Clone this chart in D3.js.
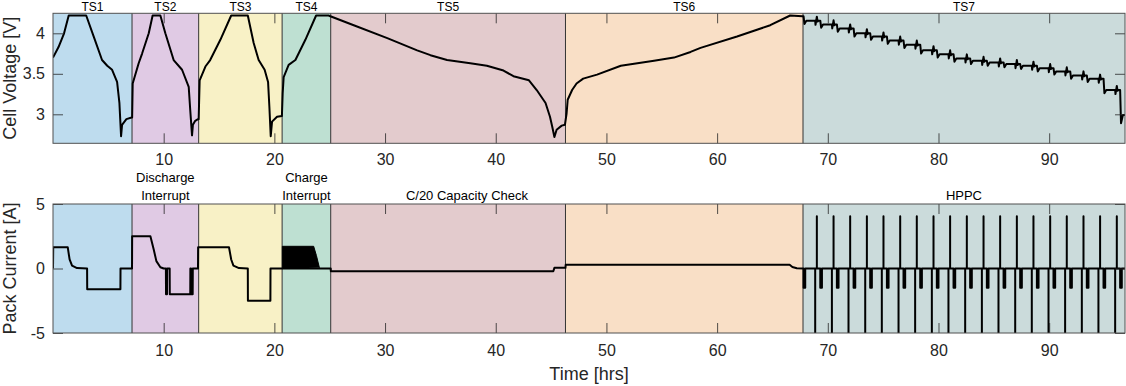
<!DOCTYPE html>
<html>
<head>
<meta charset="utf-8">
<script src="https://cdn.jsdelivr.net/npm/d3@7"></script>
<style>
  body { margin: 0; background: #fff; }
  svg { display: block; font-family: "Liberation Sans", Arial, sans-serif; }
</style>
</head>
<body>
<svg id="chart" width="1126" height="386"></svg>
<script>
// test steps
const tsNames = ["TS1", "TS2", "TS3", "TS4", "TS5", "TS6", "TS7"];
const tsBounds = [0, 7.14, 13.16, 20.7, 25.09, 46.3, 67.76, 96.85];
const tsColors = ["#bedcee", "#e0cae4", "#f8f1c6", "#bee0d2", "#e3cbcd", "#f9dfc6", "#cbdbdb"];
const stepLabels = [["Discharge", "Interrupt"], ["Charge", "Interrupt"], ["C/20 Capacity Check"], ["HPPC"]];
const stepLabelT = [10.15, 22.9, 37.4, 82.3];

const xTicks = [10, 20, 30, 40, 50, 60, 70, 80, 90];
const vTicks = [3, 3.5, 4];
const iTicks = [-5, 0, 5];

// cell voltage, TS1..TS6 [hrs, V]
const voltTS1 = [[0, 3.70], [0.5, 3.83], [1.0, 4.0], [1.42, 4.22], [3.0, 4.22], [3.68, 3.96], [4.43, 3.67], [4.9, 3.60],
  [5.34, 3.55], [5.79, 3.40], [6.0, 3.14], [6.15, 2.73], [6.24, 2.87], [6.63, 2.94], [7.1, 2.96]];
const voltTS2 = [[7.15, 2.96], [7.2, 3.38], [7.74, 3.63], [8.05, 3.75], [8.65, 4.0], [9.0, 4.22], [9.7, 4.22], [10.15, 4.0],
  [10.9, 3.67], [11.66, 3.55], [12.26, 3.34], [12.4, 3.05], [12.56, 2.74], [12.64, 2.87], [12.85, 2.92], [13.1, 2.94]];
const voltTS3 = [[13.16, 2.94], [13.25, 3.42], [13.77, 3.59], [14.2, 3.67], [15.12, 3.92], [16.1, 4.22], [17.6, 4.22],
  [18.13, 3.88], [18.58, 3.67], [19.12, 3.55], [19.43, 3.40], [19.55, 3.09], [19.67, 2.73], [19.79, 2.91], [20.24, 2.97], [20.68, 2.98]];
const voltTS4 = [[20.75, 3.26], [20.84, 3.46], [21.29, 3.61], [21.9, 3.67], [22.8, 3.92], [23.77, 4.22], [24.9, 4.22]];
const voltTS5 = [[25.06, 4.21], [27.17, 4.10], [30.2, 3.94], [32.9, 3.79], [34.1, 3.73], [35.6, 3.67], [37.7, 3.63],
  [39.2, 3.60], [40.7, 3.54], [41.6, 3.47], [43.0, 3.42], [43.7, 3.30], [44.5, 3.14], [44.9, 2.97], [45.1, 2.85],
  [45.3, 2.72], [45.5, 2.81], [45.96, 2.86], [46.25, 2.87]];
const voltTS6 = [[46.4, 3.01], [46.5, 3.18], [46.9, 3.30], [47.3, 3.38], [47.9, 3.44], [49.15, 3.49], [51.3, 3.60],
  [54.3, 3.66], [56.1, 3.70], [57.6, 3.77], [58.5, 3.82], [61.8, 3.96], [64.8, 4.10], [66.6, 4.22], [67.7, 4.21]];

// pack current, TS1..TS6 [hrs, A]
const currTS1 = [[0, 0], [0.02, 1.65], [1.33, 1.65], [1.5, 0.7], [1.72, 0.23], [2.17, 0.03], [3.08, 0], [3.09, -1.6],
  [6.09, -1.6], [6.1, 0], [7.14, 0]];
const currTS2 = [[7.15, 2.5], [8.8, 2.5], [9.1, 1.47], [9.34, 0.57], [9.7, 0.1], [10.0, 0], [10.2, 0], [10.21, -2.0],
  [10.3, -2.0], [10.31, 0], [10.54, 0], [10.55, -2.0], [12.4, -2.0], [12.41, 0], [12.47, 0], [12.48, -2.0],
  [12.62, -2.0], [12.63, 0], [13.1, 0]];
const currTS3 = [[13.11, 1.65], [15.9, 1.65], [16.1, 0.7], [16.3, 0.23], [16.8, 0.03], [17.6, 0], [17.61, -2.5],
  [19.64, -2.5], [19.65, 0], [20.7, 0]];
const currTS4 = [[20.7, 0], [25.09, 0]];
const chargeInterruptTop = [[20.72, 1.72], [23.55, 1.72], [23.8, 1.0], [24.07, 0.05]];
const currTS5 = [[25.1, -0.21], [45.2, -0.21], [45.3, 0.05], [46.3, 0.05]];
const currTS6 = [[46.32, 0.29], [66.55, 0.29], [66.8, 0.12], [67.2, 0.02], [67.76, 0]];

// HPPC (TS7)
const hppcStepT = [67.81, 69.32, 70.82, 72.33, 73.83, 75.34, 76.84, 78.35, 79.85, 81.36, 82.86, 84.37, 85.88,
  87.38, 88.89, 90.39, 91.90, 93.40, 94.91, 96.41];
const hppcPulseT = [68.86, 70.37, 71.87, 73.38, 74.88, 76.39, 77.89, 79.40, 80.90, 82.41, 83.92, 85.42, 86.93,
  88.43, 89.94, 91.44, 92.95, 94.45, 95.96];
const hppcLevelV = [4.155, 4.11, 4.06, 4.00, 3.96, 3.91, 3.86, 3.79, 3.74, 3.69, 3.66, 3.64, 3.62, 3.60, 3.57,
  3.53, 3.48, 3.44, 3.30, 2.99];
const hppcStepI = -1.5;
const hppcPulseI = [-6, 4.05];
const hppcPulseDV = [-0.05, 0.05];
const hppcStepDipV = 0.04;
const hppcLastDipV = 2.89;

const svg = d3.select("#chart");
const x = d3.scaleLinear().domain([0, 96.85]).range([53, 1125]);
const yV = d3.scaleLinear().domain([2.642, 4.247]).range([143.3, 13.3]);
const yI = d3.scaleLinear().domain([-5, 5]).range([333, 204]);

// build HPPC traces
var hppcV = [[67.7, 4.21]];
var hppcI = [[67.76, 0]];
var prev = 4.21;
for (let k = 0; k < hppcStepT.length; k++) {
  var ts = hppcStepT[k], L = hppcLevelV[k];
  hppcV.push([ts, prev], [ts + 0.08, k == hppcStepT.length - 1 ? hppcLastDipV : L - hppcStepDipV], [ts + 0.25, L]);
  hppcI.push([ts, 0], [ts, hppcStepI], [ts + 0.15, hppcStepI], [ts + 0.15, 0]);
  if (k < hppcPulseT.length) {
    var td = hppcPulseT[k];
    hppcV.push([td, L], [td + 0.03, L + hppcPulseDV[0]], [td + 0.15, L + hppcPulseDV[1]], [td + 0.22, L - 0.01], [td + 0.3, L]);
    hppcI.push([td, 0], [td, hppcPulseI[0]], [td, 0], [td + 0.15, 0], [td + 0.15, hppcPulseI[1]], [td + 0.15, 0]);
  }
  prev = L;
}
hppcV.push([96.85, 2.99]);
hppcI.push([96.85, 0]);

const voltAll = [].concat(voltTS1, voltTS2, voltTS3, voltTS4, voltTS5, voltTS6, hppcV);
const currAll = [].concat(currTS1, currTS2, currTS3, currTS4, currTS5, currTS6, hppcI);

function panel(y, yTicks, yLabel, labelPad, id) {
  var g = svg.append("g");
  var y0 = y.range()[0], y1 = y.range()[1];

  g.append("clipPath").attr("id", id)
    .append("rect").attr("x", x(0)).attr("y", y1).attr("width", x.range()[1] - x(0)).attr("height", y0 - y1);

  // step patches
  g.selectAll("rect.ts").data(tsNames).enter().append("rect")
    .attr("class", "ts")
    .attr("x", (d, i) => x(tsBounds[i]))
    .attr("y", y1)
    .attr("width", (d, i) => x(tsBounds[i + 1]) - x(tsBounds[i]))
    .attr("height", y0 - y1)
    .style("fill", (d, i) => tsColors[i]);

  g.selectAll("line.sep").data(tsBounds.slice(1, -1)).enter().append("line")
    .attr("class", "sep")
    .attr("x1", d => x(d)).attr("x2", d => x(d))
    .attr("y1", y1).attr("y2", y0)
    .style("stroke", "#333").style("stroke-width", 1);

  g.append("g").attr("class", "data");

  g.append("g").attr("transform", "translate(0," + y0 + ")")
    .call(d3.axisBottom(x).tickValues(xTicks).tickSize(-10).tickPadding(labelPad).tickFormat(d => d));
  g.append("g").attr("transform", "translate(0," + y1 + ")")
    .call(d3.axisTop(x).tickValues(xTicks).tickSize(-10).tickFormat(""));
  g.append("g").attr("transform", "translate(" + x(0) + ",0)")
    .call(d3.axisLeft(y).tickValues(yTicks).tickSize(-10).tickPadding(8).tickFormat(d => String(d)));
  g.append("g").attr("transform", "translate(" + x.range()[1] + ",0)")
    .call(d3.axisRight(y).tickValues(yTicks).tickSize(-10).tickFormat(""));

  g.selectAll(".domain").remove();
  g.selectAll(".tick line").style("stroke", "#262626").style("stroke-width", 0.8);
  g.selectAll(".tick text").style("font-size", "16px").style("fill", "#262626")
    .style("font-family", "'Liberation Sans', Arial, sans-serif");

  g.append("rect")
    .attr("x", x(0)).attr("y", y1)
    .attr("width", x.range()[1] - x(0)).attr("height", y0 - y1)
    .style("fill", "none").style("stroke", "#505050").style("stroke-width", 1);

  g.append("text")
    .attr("transform", "translate(16," + ((y0 + y1) / 2) + ") rotate(-90)")
    .attr("text-anchor", "middle")
    .style("font-size", "18px").style("fill", "#262626")
    .text(yLabel);
  return g.select("g.data");
}

var gVolt = panel(yV, vTicks, "Cell Voltage [V]", 10, "clipV");
var gCurr = panel(yI, iTicks, "Pack Current [A]", 12, "clipI");

gVolt.append("path")
  .datum(voltAll)
  .attr("clip-path", "url(#clipV)")
  .attr("d", d3.line().x(d => x(d[0])).y(d => yV(d[1])))
  .style("fill", "none").style("stroke", "#000").style("stroke-width", 2)
  .style("stroke-linejoin", "round");

gCurr.append("path")
  .datum([[chargeInterruptTop[0][0], 0]].concat(chargeInterruptTop))
  .attr("d", d3.line().x(d => x(d[0])).y(d => yI(d[1])))
  .style("fill", "#000").style("stroke", "#000").style("stroke-width", 1);

gCurr.append("path")
  .datum(currAll)
  .attr("clip-path", "url(#clipI)")
  .attr("d", d3.line().x(d => x(d[0])).y(d => yI(d[1])))
  .style("fill", "none").style("stroke", "#000").style("stroke-width", 2)
  .style("stroke-linejoin", "round");

// step names
svg.selectAll("text.tsname").data(tsNames).enter().append("text")
  .attr("class", "tsname")
  .attr("x", (d, i) => x((tsBounds[i] + tsBounds[i + 1]) / 2))
  .attr("y", 11)
  .attr("text-anchor", "middle")
  .style("font-size", "12px").style("fill", "#000")
  .text(d => d);

var sl = svg.selectAll("g.steplabel").data(stepLabels).enter().append("g").attr("class", "steplabel");
sl.selectAll("text").data((d, i) => d.map((s, j) => ({ s: s, t: stepLabelT[i], row: d.length - 1 - j })))
  .enter().append("text")
  .attr("x", d => x(d.t))
  .attr("y", d => 199.5 - d.row * 17.5)
  .attr("text-anchor", "middle")
  .style("font-size", "13px").style("fill", "#000")
  .text(d => d.s);

svg.append("text")
  .attr("x", (x.range()[0] + x.range()[1]) / 2)
  .attr("y", 380)
  .attr("text-anchor", "middle")
  .style("font-size", "18px").style("fill", "#262626")
  .text("Time [hrs]");
</script>
</body>
</html>
